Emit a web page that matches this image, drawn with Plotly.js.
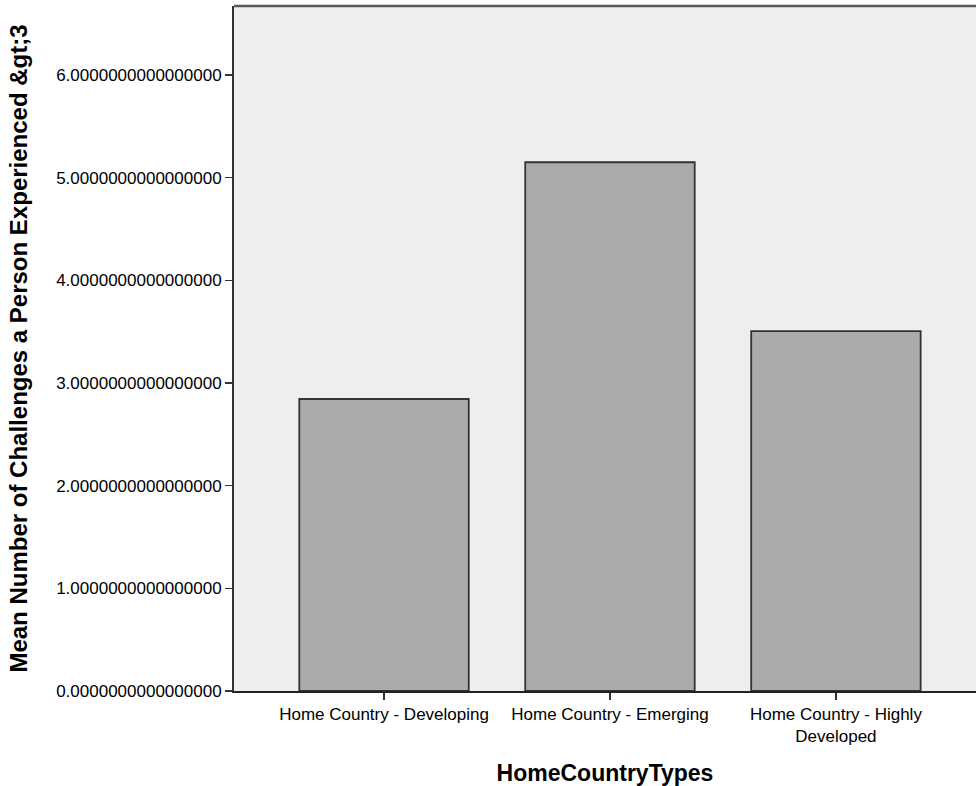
<!DOCTYPE html>
<html>
<head>
<meta charset="utf-8">
<script src="https://cdn.plot.ly/plotly-3.0.1.min.js"></script>
<style>
html,body{margin:0;padding:0;background:#fff;}
#chart{width:976px;height:786px;}
</style>
</head>
<body>
<div id="chart"></div>
<script>
const categories = ["Home Country - Developing", "Home Country - Emerging", "Home Country - Highly<br>Developed"];
const meanValues = [2.844, 5.150, 3.506];
const yTickVals = [0, 1, 2, 3, 4, 5, 6];
const yTickText = ["0.0000000000000000", "1.0000000000000000", "2.0000000000000000", "3.0000000000000000", "4.0000000000000000", "5.0000000000000000", "6.0000000000000000"];
const xTitle = "HomeCountryTypes";
const yTitle = "Mean Number of Challenges a Person Experienced &amp;gt;3";

const FONT = 'Arial, "Liberation Sans", sans-serif';

const trace = {
  type: 'bar',
  x: [0, 1, 2],
  y: meanValues,
  width: 0.75,
  marker: {
    color: '#ababab',
    line: {color: '#333333', width: 1.8}
  },
  hoverinfo: 'skip'
};

const layout = {
  width: 976,
  height: 786,
  margin: {l: 234, r: 0, t: 6, b: 95, pad: 0},
  paper_bgcolor: '#ffffff',
  plot_bgcolor: '#eeeeee',
  showlegend: false,
  font: {family: FONT, color: '#000'},
  xaxis: {
    range: [-0.664, 2.62],
    tickvals: [0, 1, 2],
    ticktext: categories,
    tickfont: {size: 17, family: FONT, color: '#000'},
    ticks: 'outside',
    ticklen: 7,
    tickwidth: 1.5,
    tickcolor: '#333',
    showline: true,
    linecolor: '#222',
    linewidth: 1.5,
    showgrid: false,
    zeroline: false,
    fixedrange: true,
    automargin: false,
    title: {text: xTitle, font: {size: 23, family: FONT, color: '#000', weight: 'bold'}, standoff: 22}
  },
  yaxis: {
    range: [0, 6.672],
    tickvals: yTickVals,
    ticktext: yTickText,
    tickfont: {size: 17, family: FONT, color: '#000'},
    ticks: 'outside',
    ticklen: 7,
    tickwidth: 1.5,
    tickcolor: '#333',
    showline: true,
    linecolor: '#333',
    linewidth: 2,
    showgrid: false,
    zeroline: false,
    fixedrange: true,
    automargin: false,
    title: {text: yTitle, font: {size: 24, family: FONT, color: '#000', weight: 'bold'}, standoff: 22}
  },
  shapes: [
    {type: 'line', xref: 'paper', yref: 'paper', x0: 0, x1: 1, y0: 1, y1: 1,
     line: {color: '#5a5a5a', width: 2.5}}
  ]
};

Plotly.newPlot('chart', [trace], layout, {displayModeBar: false, staticPlot: true});
</script>
</body>
</html>
